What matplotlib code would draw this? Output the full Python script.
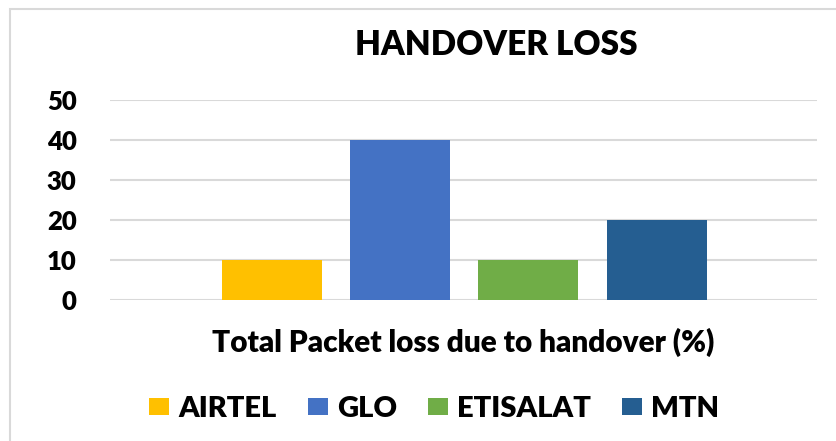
import matplotlib.pyplot as plt
import matplotlib.patches as mpatches

plt.rcParams['font.family'] = ['Lato', 'DejaVu Sans']

networks = ['AIRTEL', 'GLO', 'ETISALAT', 'MTN']
packet_loss = [10, 40, 10, 20]
colors = ['#FFC000', '#4472C4', '#70AD47', '#255E91']
y_ticks = [0, 10, 20, 30, 40, 50]

fig = plt.figure(figsize=(8.37, 4.41), dpi=100)
ax = fig.add_axes([110 / 837, 1 - 300 / 441, 707 / 837, 200 / 441])

xs = range(len(networks))
ax.bar(xs, packet_loss, width=0.78, color=colors, zorder=3)

ax.set_xlim(-1.26, 3 + 1.25)
ax.set_ylim(0, 50)
ax.set_yticks(y_ticks)
ax.set_xticks([])
ax.yaxis.grid(True, color='#d9d9d9', linewidth=1.5, zorder=0)
for s in ax.spines.values():
    s.set_visible(False)
ax.tick_params(axis='y', length=0, pad=24, labelsize=18.5)
for lbl in ax.get_yticklabels():
    lbl.set_fontweight('heavy')

fig.text(496 / 837, 1 - 45 / 441, 'HANDOVER LOSS', ha='center', va='center',
         fontsize=24, fontweight='heavy')
fig.text(463 / 837, 1 - 342 / 441, 'Total Packet loss due to handover (%)',
         ha='center', va='center', fontsize=21.4, fontweight='heavy')

fs = 21
fpx = fs * 100 / 72
handles = [mpatches.Patch(facecolor=c, edgecolor='none') for c in colors]
fig.legend(handles, networks, loc='center', bbox_to_anchor=(434 / 837, 1 - 409 / 441),
           ncol=4, frameon=False, handlelength=20 / fpx, handleheight=15 / fpx,
           handletextpad=9 / fpx, columnspacing=31 / fpx,
           prop={'size': fs, 'weight': 'heavy'})

# chart border (cropped on the right and bottom)
fig.patches.append(mpatches.Rectangle((10 / 837, -0.1), 2, 1.1 - 9 / 441,
                                      transform=fig.transFigure, fill=False,
                                      edgecolor='#d9d9d9', linewidth=1.5))

fig.savefig('out.png', dpi=100)
